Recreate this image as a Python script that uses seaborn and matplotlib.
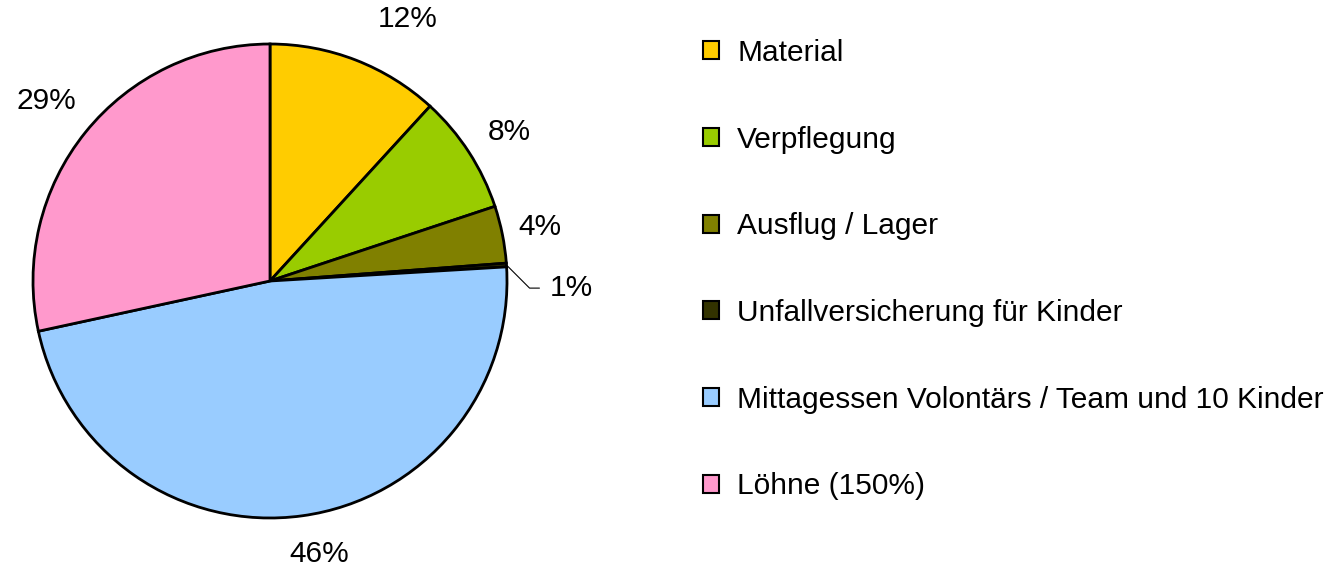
import numpy as np
import seaborn as sns
import matplotlib.pyplot as plt

# Budget shares (percent)
categories = ['Material', 'Verpflegung', 'Ausflug / Lager',
              'Unfallversicherung für Kinder',
              'Mittagessen Volontärs / Team und 10 Kinder', 'Löhne (150%)']
shares = [11.8, 8.1, 3.9, 0.25, 47.55, 28.4]
pct_labels = ['12%', '8%', '4%', '1%', '46%', '29%']
colors = ['#FFCC00', '#99CC00', '#808000', '#333300', '#99CCFF', '#FF99CC']

sns.set_theme(style='white')
plt.rcParams['font.family'] = ['Liberation Sans', 'DejaVu Sans']
plt.rcParams['text.color'] = 'black'

fig = plt.figure(figsize=(13.32, 5.66), dpi=100)
ax = fig.add_axes([33 / 1332, 1 - 518 / 566, 474 / 1332, 474 / 566])

wedges, _ = ax.pie(shares, colors=colors, startangle=90, counterclock=False,
                   radius=1.0, wedgeprops=dict(edgecolor='black', linewidth=2))
ax.set_xlim(-1, 1)
ax.set_ylim(-1, 1)
ax.set_aspect('equal')
ax.axis('off')

fs = 21.5
# percentage labels outside the slices
label_r = [1.25, 1.19, 1.16, None, 1.17, 1.21]
label_shift = [-6.5, -1, 0, 0, 2.5, 0]
for w, txt, r, sh in zip(wedges, pct_labels, label_r, label_shift):
    mid = np.deg2rad((w.theta1 + w.theta2) / 2 + sh)
    if r is None:
        x0, y0 = np.cos(mid), np.sin(mid)
        ax.annotate(txt, xy=(x0, y0), xytext=(1.18, -0.03),
                    fontsize=fs, va='center', ha='left',
                    arrowprops=dict(arrowstyle='-', color='black', lw=0.8,
                                    connectionstyle='angle,angleA=0,angleB=-45,rad=0',
                                    shrinkA=5, shrinkB=1),
                    annotation_clip=False)
        continue
    ax.text(r * np.cos(mid), r * np.sin(mid), txt, fontsize=fs,
            ha='center', va='center')

fig.legend(wedges, categories, loc='upper left',
           bbox_to_anchor=(703 / 1332, 1 - 39 / 566), frameon=False,
           fontsize=fs, handlelength=0.55, handleheight=0.55, handletextpad=0.6,
           labelspacing=1.965, borderpad=0, borderaxespad=0)
for h in fig.legends[0].legend_handles:
    h.set_linewidth(1.5)

fig.savefig('out.png', dpi=100)
